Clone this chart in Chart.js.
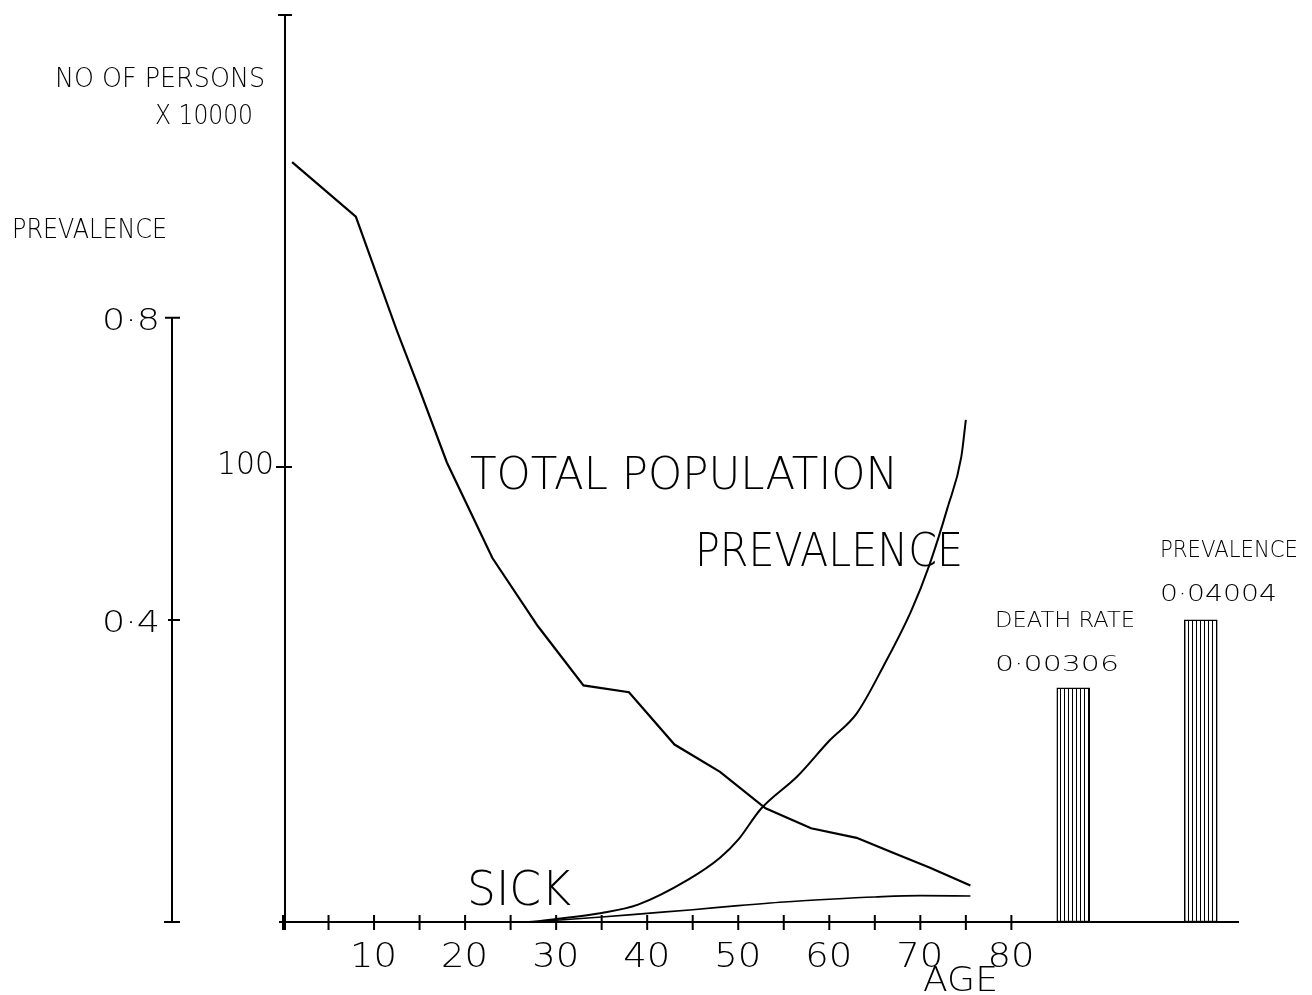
<!DOCTYPE html>
<html>
<head>
<meta charset="utf-8">
<title>Total population, sick and prevalence by age</title>
<script src="https://cdn.jsdelivr.net/npm/chart.js@4.4.1/dist/chart.umd.min.js"></script>
<style>
    html, body { margin: 0; padding: 0; background: #fff; }
    #wrap { width: 1312px; height: 995px; }
</style>
</head>
<body>
<div id="wrap"><canvas id="chart"></canvas></div>
<script>
// total population (x 10000) by age
const popAges = [1, 8, 12.5, 15, 18, 23, 28, 33, 38, 43, 48, 53, 58, 63, 67, 71, 75.5];
const popValues = [167, 155, 130, 117, 101, 80, 65, 52, 50.5, 39, 33, 25, 20.6, 18.5, 15.2, 12, 8];

// sick persons (x 10000) by age
const sickAges = [0, 27, 30, 35, 40, 45, 50, 55, 60, 65, 70, 75.5];
const sickValues = [0, 0, 0.4, 1.1, 1.9, 2.7, 3.6, 4.4, 5.0, 5.5, 5.8, 5.7];

// prevalence by age
const prevAges = [0, 27, 30, 35, 39, 44.5, 48, 50, 52.5, 56.5, 60, 63, 66, 69, 71, 73, 74.5, 75];
const prevValues = [0, 0, 0.004, 0.012, 0.023, 0.056, 0.085, 0.109, 0.15, 0.193, 0.24, 0.276, 0.34, 0.412, 0.473, 0.549, 0.616, 0.665];

// summary bars: death rate and prevalence
const barNames = ['DEATH RATE', 'PREVALENCE'];
const barLabels = ['0·00306', '0·04004'];
const barAges = [86.8, 100.8];
const barHeights = [0.31, 0.40];

// axis ticks
const ageTicks = [0, 5, 10, 15, 20, 25, 30, 35, 40, 45, 50, 55, 60, 65, 70, 75, 80];
const ageTickLabels = ['10', '20', '30', '40', '50', '60', '70', '80'];
const popTicks = [100];
const prevTicks = [0.4, 0.8];
const prevTickLabels = ['0·4', '0·8'];

const FONT = "'DejaVu Sans', 'Liberation Sans', sans-serif";

function stripes() {
    const c = document.createElement('canvas');
    c.width = 4;
    c.height = 4;
    const g = c.getContext('2d');
    g.fillStyle = '#fff';
    g.fillRect(0, 0, 4, 4);
    g.fillStyle = '#000';
    g.fillRect(0, 0, 1, 4);
    return g.createPattern(c, 'repeat');
}

// plotter-like text: left edge, baseline, cap height, total width
function plotText(ctx, str, left, baseline, capH, width) {
    const size = capH / 0.73;
    ctx.font = `200 ${size}px ${FONT}`;
    const w = ctx.measureText(str).width;
    ctx.save();
    ctx.translate(left, baseline);
    ctx.scale(width / w, 1);
    ctx.fillStyle = '#000';
    ctx.textBaseline = 'alphabetic';
    ctx.textAlign = 'left';
    ctx.fillText(str, 0, 0);
    ctx.restore();
}

const axesPlugin = {
    id: 'plotterAxes',
    beforeDatasetsDraw(chart) {
        const { ctx, scales: { x, pop, prev } } = chart;
        const x0 = x.getPixelForValue(0);
        const y0 = pop.getPixelForValue(0);
        const px = x0 - 111;
        ctx.save();
        ctx.strokeStyle = '#000';
        ctx.lineWidth = 2;
        ctx.beginPath();
        // age axis
        ctx.moveTo(x0 - 4, y0);
        ctx.lineTo(x.getPixelForValue(105), y0);
        ageTicks.forEach(a => {
            const tx = x.getPixelForValue(a);
            ctx.moveTo(tx, y0 - 7);
            ctx.lineTo(tx, y0 + 8);
        });
        // population axis
        const yTop = pop.top + 3;
        ctx.moveTo(x0 + 2, y0 + 8);
        ctx.lineTo(x0 + 2, yTop);
        ctx.moveTo(x0 - 5, yTop);
        ctx.lineTo(x0 + 9, yTop);
        popTicks.forEach(v => {
            const ty = pop.getPixelForValue(v);
            ctx.moveTo(x0 - 7, ty);
            ctx.lineTo(x0 + 9, ty);
        });
        // prevalence axis
        const pTop = prev.getPixelForValue(0.8);
        ctx.moveTo(px, y0);
        ctx.lineTo(px, pTop);
        ctx.moveTo(px - 7, pTop);
        ctx.lineTo(px + 8, pTop);
        ctx.moveTo(px - 8, y0);
        ctx.lineTo(px + 8, y0);
        const t4 = prev.getPixelForValue(0.4);
        ctx.moveTo(px - 4, t4);
        ctx.lineTo(px + 8, t4);
        ctx.stroke();
        ctx.restore();
    },
    afterDraw(chart) {
        const { ctx, scales: { x, pop, prev } } = chart;
        const x0 = x.getPixelForValue(0);

        ageTickLabels.forEach(s => {
            const cx = x.getPixelForValue(Number(s));
            plotText(ctx, s, cx - 24, 967, 24, 47);
        });
        plotText(ctx, 'AGE', 923, 991, 24, 75);

        plotText(ctx, '100', x0 - 66, pop.getPixelForValue(popTicks[0]) + 7, 23, 57);
        prevTicks.forEach((v, i) => {
            plotText(ctx, prevTickLabels[i], 102, prev.getPixelForValue(v) + 12, 22, 58);
        });

        plotText(ctx, 'NO OF PERSONS', 55, 87, 19, 210);
        plotText(ctx, 'X 10000', 155, 124, 19, 98);
        plotText(ctx, 'PREVALENCE', 12, 238, 20, 155);

        plotText(ctx, 'TOTAL POPULATION', 470, 489, 32, 428);
        plotText(ctx, 'PREVALENCE', 695, 566, 34, 268);
        plotText(ctx, 'SICK', 467, 905, 35, 104);

        plotText(ctx, barNames[0], 995, 627, 15, 140);
        plotText(ctx, barLabels[0], 995, 671, 16, 124);
        plotText(ctx, barNames[1], 1160, 557, 17, 138);
        plotText(ctx, barLabels[1], 1160, 601, 17, 117);
    }
};

const toPoints = (xs, ys) => xs.map((a, i) => ({ x: a, y: ys[i] }));

new Chart(document.getElementById('chart'), {
    data: {
        datasets: [
            {
                type: 'line',
                label: 'Total population',
                data: toPoints(popAges, popValues),
                yAxisID: 'pop',
                borderColor: '#000',
                borderWidth: 2.2,
                pointRadius: 0,
                tension: 0
            },
            {
                type: 'line',
                label: 'Sick',
                data: toPoints(sickAges, sickValues),
                yAxisID: 'pop',
                borderColor: '#000',
                borderWidth: 1.6,
                pointRadius: 0,
                cubicInterpolationMode: 'monotone'
            },
            {
                type: 'line',
                label: 'Prevalence',
                data: toPoints(prevAges, prevValues),
                yAxisID: 'prev',
                borderColor: '#000',
                borderWidth: 2,
                pointRadius: 0,
                cubicInterpolationMode: 'monotone'
            },
            {
                type: 'bar',
                label: 'Summary',
                data: toPoints(barAges, barHeights),
                yAxisID: 'prev',
                backgroundColor: stripes(),
                borderColor: '#000',
                borderWidth: 1.5,
                borderSkipped: false,
                barThickness: 33
            }
        ]
    },
    options: {
        responsive: true,
        maintainAspectRatio: false,
        animation: false,
        layout: {
            padding: { left: 283, right: 73, top: 12, bottom: 73 }
        },
        plugins: {
            legend: { display: false },
            tooltip: { enabled: false }
        },
        scales: {
            x: { type: 'linear', min: 0, max: 105, offset: false, display: false },
            pop: { type: 'linear', position: 'left', min: 0, max: 200, display: false },
            prev: { type: 'linear', position: 'left', min: 0, max: 1.205, display: false }
        }
    },
    plugins: [axesPlugin]
});
</script>
</body>
</html>
